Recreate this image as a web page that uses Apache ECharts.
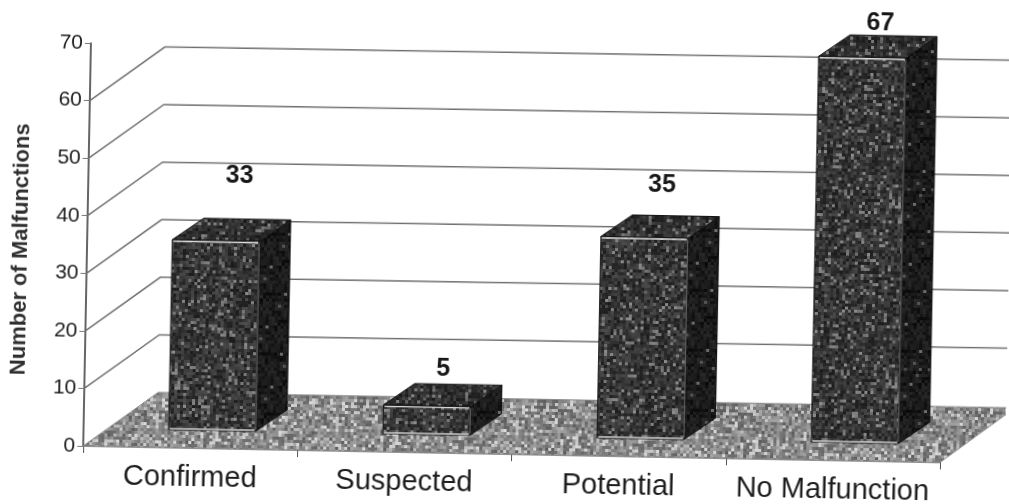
<!DOCTYPE html>
<html><head><meta charset="utf-8">
<style>
html,body{margin:0;padding:0;background:#fff;overflow:hidden;width:1009px;height:504px}
#c{width:1009px;height:504px;transform:rotate(1.1deg);transform-origin:504.5px 252px;filter:blur(0.5px) contrast(1.05)}
</style>
<script src="https://cdn.jsdelivr.net/npm/echarts@6/dist/echarts.min.js"></script>
</head><body><div id="c"></div>
<script>
var categories = ['Confirmed','Suspected','Potential','No Malfunction'];
var malfunctions = [33,5,35,67];
var wallLines = [10,20,30,40,50,60];
var labelShiftX = [7,0,1,2];
var labelLift = [43,15,30,12];

var DEPTH_X = 74, DEPTH_Y = 55, WALL_DROP = 3, BAR_DX = 31, BAR_DY = 22, BAR_OX = 21.5, BAR_OY = 18, BAR_RATIO = 0.406;

function grain(base, spread, lightShare, lightBase){
  var cv = document.createElement('canvas'); cv.width = cv.height = 180;
  var g = cv.getContext('2d'); var s = 12345 + base * 7;
  function r(){ s = (s * 1103515245 + 12345) & 0x7fffffff; return s / 0x7fffffff; }
  for (var y = 0; y < 180; y += 3) for (var x = 0; x < 180; x += 3) {
    var v = base + (r() - 0.5) * spread;
    if (r() < lightShare) v = lightBase + r() * 40;
    v = Math.max(0, Math.min(255, Math.round(v)));
    g.fillStyle = 'rgb(' + v + ',' + v + ',' + v + ')';
    g.fillRect(x, y, 3, 3);
  }
  return { image: cv, repeat: 'repeat' };
}
var frontFill = grain(56, 46, 0.14, 100);
var sideFill = grain(30, 30, 0.06, 70);
var topFill = grain(50, 40, 0.12, 95);
var floorFill = grain(130, 70, 0.2, 175);

function renderWall(params, api){
  var p = api.coord([0, api.value(1)]);
  var x0 = p[0] - api.size([1, 0])[0] / 2;
  var x1 = x0 + api.size([1, 0])[0] * categories.length + DEPTH_X;
  return { type: 'polyline', silent: true,
    shape: { points: [[x0, p[1]], [x0 + DEPTH_X, p[1] - DEPTH_Y], [x1, p[1] - DEPTH_Y - WALL_DROP]] },
    style: { stroke: '#6f6f6f', lineWidth: 1.5, fill: null } };
}
function renderFloor(params, api){
  var p = api.coord([0, 0]); var w = api.size([1, 0])[0];
  var x0 = p[0] - w / 2, x1 = x0 + w * categories.length, y = p[1];
  return { type: 'polygon', silent: true,
    shape: { points: [[x0, y], [x1, y], [x1 + DEPTH_X, y - DEPTH_Y - 1], [x0 + DEPTH_X, y - DEPTH_Y]] },
    style: { fill: floorFill, stroke: '#8a8a8a', lineWidth: 1 } };
}
function renderBar(params, api){
  var i = api.value(0), v = api.value(1);
  var base = api.coord([i, 0]), top = api.coord([i, v]);
  var w = api.size([1, 0])[0] * BAR_RATIO;
  var l = base[0] - w / 2 + BAR_OX, r = l + w, b = base[1] - BAR_OY, t = top[1] - BAR_OY;
  return { type: 'group', silent: true, children: [
    { type: 'polygon', shape: { points: [[r, b], [r + BAR_DX, b - BAR_DY], [r + BAR_DX, t - BAR_DY], [r, t]] },
      style: { fill: sideFill, stroke: '#111', lineWidth: 1 } },
    { type: 'polygon', shape: { points: [[l, t], [r, t], [r + BAR_DX, t - BAR_DY], [l + BAR_DX, t - BAR_DY]] },
      style: { fill: topFill, stroke: '#1a1a1a', lineWidth: 1 } },
    { type: 'rect', shape: { x: l, y: t, width: w, height: b - t },
      style: { fill: frontFill, stroke: '#1a1a1a', lineWidth: 1 } },
    { type: 'line', shape: { x1: l + 1, y1: t + 1.5, x2: r - 1, y2: t + 1.5 }, style: { stroke: '#d8d8d8', lineWidth: 1.3 } },
    { type: 'line', shape: { x1: l + 1, y1: b - 1, x2: r - 1, y2: b - 1 }, style: { stroke: '#c8c8c8', lineWidth: 1.3 } },
    { type: 'line', shape: { x1: r, y1: t + 2, x2: r, y2: b - 2 }, style: { stroke: '#6a6a6a', lineWidth: 1 } },
    { type: 'text', style: { text: String(v), x: base[0] + BAR_OX + BAR_DX / 2 + labelShiftX[i], y: t - BAR_DY - labelLift[i],
        font: 'bold 25px "Liberation Sans"', fill: '#1c1c1c', align: 'center', verticalAlign: 'middle' } }
  ] };
}

var chart = echarts.init(document.getElementById('c'), null, { renderer: 'canvas' });
chart.setOption({
  animation: false,
  backgroundColor: '#fff',
  textStyle: { fontFamily: '"Liberation Sans"' },
  grid: { left: 87, top: 51, width: 857, height: 403, outerBoundsMode: 'none' },
  xAxis: { type: 'category', data: categories,
    axisLine: { lineStyle: { color: '#777', width: 1.5 } },
    axisTick: { show: true, length: 7, lineStyle: { color: '#555' } },
    axisLabel: { fontSize: 29, color: '#222', margin: 15, interval: 0 } },
  yAxis: { type: 'value', min: 0, max: 70, interval: 10,
    name: 'Number of Malfunctions', nameLocation: 'middle', nameRotate: 90, nameGap: 55,
    nameTextStyle: { fontSize: 22, fontWeight: 'bold', color: '#333', padding: [0, 12, 0, 0] },
    axisLine: { show: true, lineStyle: { color: '#333', width: 1.5 } },
    axisTick: { show: true, length: 6, lineStyle: { color: '#777' } },
    axisLabel: { fontSize: 21, color: '#222', margin: 8 },
    splitLine: { show: false } },
  series: [
    { type: 'custom', z: 1, renderItem: renderWall, data: wallLines.map(function(v){ return [0, v]; }), encode: { x: 0, y: 1 } },
    { type: 'custom', z: 2, renderItem: renderFloor, data: [[0, 0]], encode: { x: 0, y: 1 } },
    { type: 'custom', z: 3, renderItem: renderBar, data: malfunctions.map(function(v, i){ return [i, v]; }), encode: { x: 0, y: 1 } }
  ]
});
</script></body></html>
